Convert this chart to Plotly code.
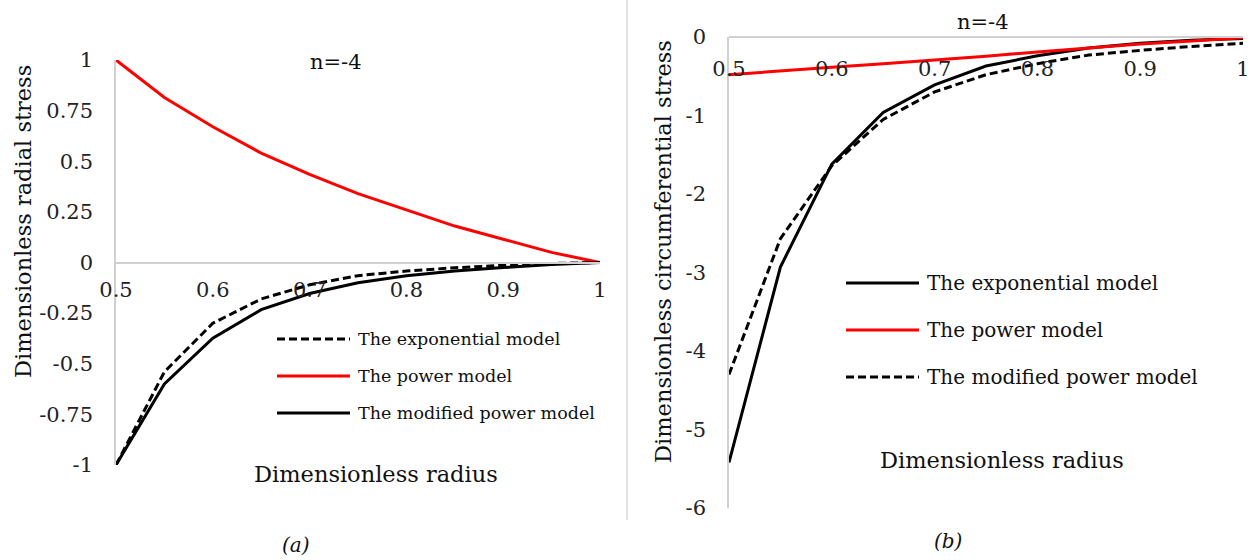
import plotly.graph_objects as go

W, H = 1252, 560
FONT = "DejaVu Serif"

# Dimensionless radius (shared abscissa)
radius = [0.5, 0.55, 0.6, 0.65, 0.7, 0.75, 0.8, 0.85, 0.9, 0.95, 1.0]

# (a) dimensionless radial stress, n = -4
radial_exponential = [-1.0, -0.54, -0.30, -0.18, -0.11, -0.065, -0.042, -0.026, -0.014, -0.005, 0.0]
radial_power = [1.0, 0.815, 0.67, 0.54, 0.435, 0.34, 0.26, 0.18, 0.115, 0.05, 0.0]
radial_modified = [-1.0, -0.60, -0.374, -0.233, -0.153, -0.10, -0.065, -0.042, -0.025, -0.01, 0.0]

# (b) dimensionless circumferential stress, n = -4
circ_exponential = [-5.42, -2.93, -1.62, -0.96, -0.61, -0.37, -0.24, -0.14, -0.08, -0.04, -0.02]
circ_power = [-0.48, -0.43, -0.385, -0.34, -0.295, -0.245, -0.19, -0.14, -0.09, -0.05, -0.01]
circ_modified = [-4.30, -2.57, -1.64, -1.05, -0.70, -0.48, -0.34, -0.23, -0.17, -0.12, -0.08]

# tick labels
x_tickvals = [0.5, 0.6, 0.7, 0.8, 0.9, 1.0]
x_ticktext = ["0.5", "0.6", "0.7", "0.8", "0.9", "1"]
ya_tickvals = [1, 0.75, 0.5, 0.25, 0, -0.25, -0.5, -0.75, -1]
ya_ticktext = ["1", "0.75", "0.5", "0.25", "0", "-0.25", "-0.5", "-0.75", "-1"]
yb_tickvals = [0, -1, -2, -3, -4, -5, -6]
yb_ticktext = ["0", "-1", "-2", "-3", "-4", "-5", "-6"]

RED = "#ff0000"
BLACK = "#000000"
AXIS = "#d0d0d0"
DASH = "8px,4px"
TICK_SIZE = 21


def px(x):
    return x / W


def py(y):
    return 1 - y / H


# series per panel: name, values, colour, dash
panel_a = [
    ("The exponential model", radial_exponential, BLACK, DASH),
    ("The power model", radial_power, RED, "solid"),
    ("The modified power model", radial_modified, BLACK, "solid"),
]
panel_b = [
    ("The exponential model", circ_exponential, BLACK, "solid"),
    ("The power model", circ_power, RED, "solid"),
    ("The modified power model", circ_modified, BLACK, DASH),
]

fig = go.Figure()
for name, vals, col, dash in panel_a:
    fig.add_trace(go.Scatter(x=radius, y=vals, mode="lines", name=name,
                             line=dict(color=col, width=3, dash=dash),
                             xaxis="x", yaxis="y", showlegend=False))
for name, vals, col, dash in panel_b:
    fig.add_trace(go.Scatter(x=radius, y=vals, mode="lines", name=name,
                             line=dict(color=col, width=3, dash=dash),
                             xaxis="x2", yaxis="y2", showlegend=False))

ya_dom = [py(465), py(60)]
yb_dom = [py(508), py(37)]
ya_rng = [-1, 1]
yb_rng = [-6, 0]


def zero_pos(dom, rng):
    return dom[0] + (0 - rng[0]) / (rng[1] - rng[0]) * (dom[1] - dom[0])


xcommon = dict(range=[0.5, 1.0], showgrid=False, zeroline=False, showline=True,
               linecolor=AXIS, linewidth=1.5, tickvals=x_tickvals, ticktext=x_ticktext,
               tickfont=dict(family=FONT, size=TICK_SIZE, color="#222"), automargin=False,
               ticks="outside", tickcolor="rgba(0,0,0,0)", anchor="free")
ycommon = dict(showgrid=False, zeroline=False, showline=True, linecolor=AXIS, linewidth=1.5,
               tickfont=dict(family=FONT, size=TICK_SIZE, color="#222"), automargin=False,
               ticks="outside", ticklen=17, tickcolor="rgba(0,0,0,0)")

fig.update_layout(
    template="none",
    width=W, height=H, margin=dict(l=0, r=0, t=0, b=0, pad=0),
    paper_bgcolor="white", plot_bgcolor="white", showlegend=False,
    font=dict(family=FONT),
    xaxis=dict(domain=[px(116), px(600)], position=zero_pos(ya_dom, ya_rng), ticklen=9,
               **xcommon),
    yaxis=dict(domain=ya_dom, range=ya_rng, anchor="x", tickvals=ya_tickvals,
               ticktext=ya_ticktext, **ycommon),
    xaxis2=dict(domain=[px(729), px(1243)], position=zero_pos(yb_dom, yb_rng), ticklen=13,
                **xcommon),
    yaxis2=dict(domain=yb_dom, range=yb_rng, anchor="x2", tickvals=yb_tickvals,
                ticktext=yb_ticktext, **ycommon),
)

annotations = []
shapes = []


def text(x, y, s, size, angle=0, xanchor="center"):
    annotations.append(dict(x=px(x), y=py(y), xref="paper", yref="paper", text=s,
                            showarrow=False, textangle=angle, xanchor=xanchor,
                            yanchor="middle", font=dict(family=FONT, size=size, color="#111")))


# titles and labels, panel (a)
text(336, 62, "n=-4", 21)
text(23, 222, "Dimensionless radial stress", 22.5, angle=-90)
text(376, 474, "Dimensionless radius", 22.5)
text(296, 545, "<i>(a)</i>", 20)
# titles and labels, panel (b)
text(983, 22, "n=-4", 21)
text(663, 252, "Dimensionless circumferential stress", 22.5, angle=-90)
text(1002, 460, "Dimensionless radius", 22.5)
text(948, 541, "<i>(b)</i>", 20)


# legends
def legend(entries, x0, x1, xt, rows, size):
    for (name, _, col, dash), yr in zip(entries, rows):
        shapes.append(dict(type="line", xref="paper", yref="paper",
                           x0=px(x0), x1=px(x1), y0=py(yr), y1=py(yr),
                           line=dict(color=col, width=3, dash=dash)))
        text(xt, yr, name, size, xanchor="left")


legend(panel_a, 277, 350, 356, [339, 376, 413], 17.5)
legend(panel_b, 846, 919, 925, [283, 330, 377], 20)

# divider between the two panels
shapes.append(dict(type="line", xref="paper", yref="paper", x0=px(627), x1=px(627),
                   y0=py(520), y1=1, line=dict(color="#d9d9d9", width=1.5)))

fig.update_layout(annotations=annotations, shapes=shapes)
fig.write_html("out.html")
